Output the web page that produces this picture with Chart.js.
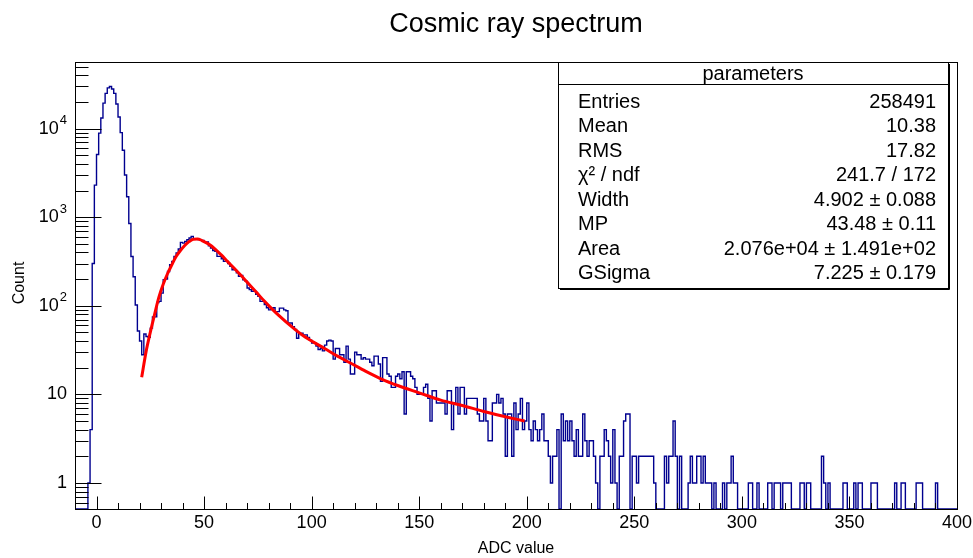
<!DOCTYPE html>
<html>
<head>
<meta charset="utf-8">
<title>Cosmic ray spectrum</title>
<script src="https://cdn.jsdelivr.net/npm/chart.js@4/dist/chart.umd.min.js"></script>
<style>
    html, body { margin: 0; padding: 0; background: #fff; }
    #wrap { width: 973px; height: 558px; }
</style>
</head>
<body>
<div id="wrap"><canvas id="spectrum" width="973" height="558"></canvas></div>
<script>
// histogram: 1 ADC bins starting at -10
const binLow = -10;
const binWidth = 1;

// bins -10 .. 21 (pedestal peak)
const countsPedestal = [
    0, 0, 0, 0, 0, 0, 1, 4, 300, 2300,
    5100, 8900, 13200, 19400, 25000, 28800, 29900, 28000, 25000, 19000,
    13500, 9000, 5700, 3000, 1700, 850, 360, 213, 102, 52,
    40, 28
];
// bins 22 .. 99 (muon peak)
const countsMuon = [
    48, 45, 44, 56, 75, 75, 109, 112, 139, 197,
    200, 244, 291, 317, 361, 394, 437, 520, 510, 533,
    557, 582, 607, 570, 568, 560, 547, 547, 525, 525,
    477, 449, 420, 411, 361, 361, 340, 317, 317, 300,
    279, 255, 255, 235, 215, 220, 197, 190, 159, 152,
    146, 146, 135, 128, 112, 112, 103, 95, 90, 92,
    95, 86, 86, 94, 94, 90, 88, 64, 64, 58,
    54, 43, 49, 49, 47, 47, 44, 41
];
// bins 100 .. 199
const countsTailA = [
    38, 38, 35, 32, 33, 31, 36, 40, 41, 40,
    25, 33, 33, 28, 28, 23, 35, 25, 17, 17,
    30, 28, 28, 25, 26, 25, 25, 23, 21, 27,
    27, 22, 14, 26, 26, 17, 16, 12, 12, 16,
    17, 15, 18, 6, 18, 18, 16, 15, 12, 10,
    10, 10, 12, 13, 9, 5, 11, 11, 8, 8,
    8, 8, 6, 11, 11, 4, 8, 12, 6, 12,
    12, 6, 9, 9, 9, 9, 9, 6, 5, 5,
    9, 5, 3, 3, 8, 8, 10, 8, 9, 6,
    2, 6, 6, 2, 8, 4, 6, 9, 4, 5
];
// bins 200 .. 299
const countsTailB = [
    8, 4, 3, 5, 4, 3, 4, 6, 3, 3,
    2, 1, 2, 2, 4, 0, 6, 3, 5, 3,
    5, 3, 2, 4, 2, 2, 6, 3, 2, 3,
    3, 2, 1, 0, 2, 2, 4, 3, 2, 1,
    4, 1, 0, 2, 2, 5, 6, 6, 0, 2,
    2, 1, 2, 2, 2, 2, 2, 2, 2, 1,
    0, 0, 0, 0, 2, 1, 2, 2, 5, 2,
    0, 2, 0, 0, 0, 1, 2, 1, 1, 2,
    2, 1, 2, 1, 1, 1, 0, 1, 0, 0,
    0, 1, 0, 1, 1, 2, 1, 1, 0, 0
];
// bins 300 .. 399
const countsTailC = [
    0, 0, 0, 1, 1, 0, 0, 1, 0, 0,
    0, 0, 1, 1, 0, 1, 1, 1, 0, 1,
    1, 1, 1, 0, 0, 0, 0, 1, 1, 0,
    1, 1, 0, 0, 0, 0, 0, 2, 1, 0,
    1, 0, 0, 0, 0, 0, 0, 1, 1, 0,
    0, 0, 1, 0, 1, 1, 0, 0, 0, 0,
    1, 1, 1, 0, 0, 0, 0, 0, 0, 0,
    0, 1, 0, 0, 1, 1, 0, 0, 0, 0,
    0, 1, 1, 1, 0, 0, 0, 0, 0, 0,
    1, 0, 0, 0, 0, 0, 0, 0, 0, 0
];

// Landau (x) Gauss fit
const fitX = [21, 23, 25, 27, 29, 31, 33, 35, 37, 39, 41, 43, 45, 47, 49, 52, 55, 58, 61, 64,
              67, 70, 74, 78, 82, 86, 90, 95, 100, 106, 112, 118, 125, 133, 140, 150, 160, 170, 180, 190, 199];
const fitY = [15.6, 30, 50, 80, 125, 175, 230, 290, 360, 420, 480, 530, 565, 568, 545, 500, 440, 375, 315, 265,
              222, 185, 145, 113, 90, 73, 60, 48, 40, 33, 27, 22.6, 18.3, 14.7, 12.6, 10.4, 8.6, 7.5, 6.4, 5.6, 5.0];

const xMajorTicks = [0, 50, 100, 150, 200, 250, 300, 350, 400];
const yDecades = [0, 1, 2, 3, 4];

const statNames = ['Entries', 'Mean', 'RMS', 'χ² / ndf', 'Width', 'MP', 'Area', 'GSigma'];
const statValues = ['258491', '10.38', '17.82', '241.7 / 172', '4.902 ± 0.088', '43.48 ± 0.11',
                    '2.076e+04 ± 1.491e+02', '7.225 ± 0.179'];

const X_MIN = -10, X_MAX = 400;
const Y_MIN = 0.508, Y_MAX = 56500;
const FONT = '"Liberation Sans", Arial, Helvetica, sans-serif';

const counts = [].concat(countsPedestal, countsMuon, countsTailA, countsTailB, countsTailC);
// empty bins sit on the bottom of the frame, as ROOT draws them
const histPoints = counts.map((c, i) => ({ x: binLow + i * binWidth, y: c > 0 ? c : Y_MIN }));
histPoints.push({ x: binLow + counts.length * binWidth, y: Y_MIN });
const fitPoints = fitX.map((x, i) => ({ x: x, y: fitY[i] }));

// frame, inner ticks, labels and the stats box, ROOT style
const rootFrame = {
    id: 'rootFrame',
    afterDraw(chart) {
        const ctx = chart.ctx;
        const a = chart.chartArea;
        const xs = chart.scales.x;
        const ys = chart.scales.y;
        ctx.save();

        ctx.strokeStyle = '#000';
        ctx.lineWidth = 1;
        ctx.strokeRect(Math.round(a.left) + 0.5, Math.round(a.top) + 0.5,
                       Math.round(a.right - a.left), Math.round(a.bottom - a.top));

        // x ticks
        const bottom = Math.round(a.bottom) + 0.5;
        ctx.beginPath();
        for (let v = X_MIN; v <= X_MAX; v += 10) {
            const px = Math.round(xs.getPixelForValue(v)) + 0.5;
            const len = (v % 50 === 0) ? 13 : 6.5;
            ctx.moveTo(px, bottom);
            ctx.lineTo(px, bottom - len);
        }
        // y ticks
        const left = Math.round(a.left) + 0.5;
        for (let e = -1; e <= 4; e++) {
            for (let m = 1; m <= 9; m++) {
                const v = m * Math.pow(10, e);
                if (v < Y_MIN || v > Y_MAX) continue;
                const py = Math.round(ys.getPixelForValue(v)) + 0.5;
                const len = (m === 1) ? 26 : 13;
                ctx.moveTo(left, py);
                ctx.lineTo(left + len, py);
            }
        }
        ctx.stroke();

        // x labels
        ctx.fillStyle = '#000';
        ctx.font = '18px ' + FONT;
        ctx.textAlign = 'center';
        ctx.textBaseline = 'middle';
        xMajorTicks.forEach(v => {
            ctx.fillText(String(v), xs.getPixelForValue(v), a.bottom + 14);
        });

        // y labels with superscript exponents
        yDecades.forEach(e => {
            const py = ys.getPixelForValue(Math.pow(10, e));
            const right = a.left - 8;
            ctx.textAlign = 'right';
            ctx.font = '18px ' + FONT;
            if (e === 0 || e === 1) {
                ctx.fillText(e === 0 ? '1' : '10', right, py);
            } else {
                ctx.font = '13px ' + FONT;
                const ew = ctx.measureText(String(e)).width;
                ctx.fillText(String(e), right, py - 8);
                ctx.font = '18px ' + FONT;
                ctx.fillText('10', right - ew - 1, py);
            }
        });

        // axis titles
        ctx.font = '16px ' + FONT;
        ctx.textAlign = 'center';
        ctx.fillText('ADC value', (a.left + a.right) / 2, 549);
        ctx.save();
        ctx.translate(20, 283);
        ctx.rotate(-Math.PI / 2);
        ctx.fillText('Count', 0, 0);
        ctx.restore();

        // title
        ctx.font = '27px ' + FONT;
        ctx.fillText('Cosmic ray spectrum', 516, 25);

        // stats box
        const bx = 558, by = 62, bw = 390, bh = 226;
        ctx.fillStyle = '#fff';
        ctx.fillRect(bx, by, bw, bh);
        ctx.strokeStyle = '#000';
        ctx.lineWidth = 1;
        ctx.strokeRect(bx + 0.5, by + 0.5, bw, bh);
        ctx.beginPath();
        ctx.moveTo(bx + bw + 1.5, by + 2);
        ctx.lineTo(bx + bw + 1.5, by + bh + 1.5);
        ctx.lineTo(bx + 2, by + bh + 1.5);
        ctx.stroke();
        ctx.beginPath();
        ctx.moveTo(bx, by + 22.5);
        ctx.lineTo(bx + bw, by + 22.5);
        ctx.stroke();

        ctx.fillStyle = '#000';
        ctx.font = '20px ' + FONT;
        ctx.textAlign = 'center';
        ctx.fillText('parameters', bx + bw / 2, by + 12);
        statNames.forEach((name, i) => {
            const ty = by + 40 + i * 24.5;
            ctx.textAlign = 'left';
            ctx.fillText(name, bx + 20, ty);
            ctx.textAlign = 'right';
            ctx.fillText(statValues[i], bx + bw - 12, ty);
        });

        ctx.restore();
    }
};

new Chart(document.getElementById('spectrum'), {
    type: 'line',
    data: {
        datasets: [
            {
                label: 'fit',
                data: fitPoints,
                borderColor: '#ff0000',
                borderWidth: 3,
                pointRadius: 0,
                cubicInterpolationMode: 'monotone',
                fill: false
            },
            {
                label: 'ADC',
                data: histPoints,
                borderColor: '#00008f',
                borderWidth: 1.4,
                pointRadius: 0,
                stepped: 'before',
                fill: false
            }
        ]
    },
    options: {
        responsive: false,
        animation: false,
        devicePixelRatio: 1,
        layout: { padding: { left: 75, right: 16, top: 62, bottom: 49 } },
        scales: {
            x: { type: 'linear', min: X_MIN, max: X_MAX, bounds: 'data', display: false },
            y: { type: 'logarithmic', min: Y_MIN, max: Y_MAX, bounds: 'data', display: false }
        },
        plugins: {
            legend: { display: false },
            tooltip: { enabled: false }
        }
    },
    plugins: [rootFrame]
});
</script>
</body>
</html>
